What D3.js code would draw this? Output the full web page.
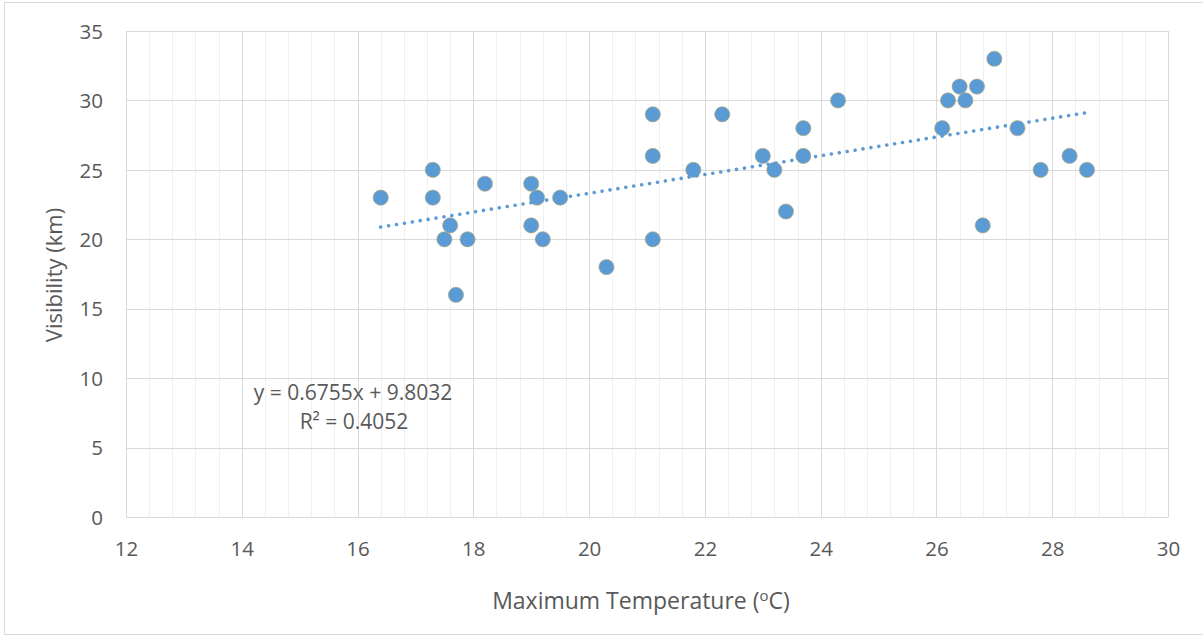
<!DOCTYPE html>
<html>
<head>
<meta charset="utf-8">
<script src="https://cdn.jsdelivr.net/npm/d3@7"></script>
<style>
  html, body { margin: 0; padding: 0; background: #fff; }
  svg { display: block; }
  text { font-family: "Open Sans", "Noto Sans", sans-serif; fill: #595959; }
</style>
</head>
<body>
<svg id="chart" width="1203" height="636"></svg>
<script>
// Maximum temperature (°C) against visibility (km)
const maxTemp = [16.4, 17.3, 17.3, 17.5, 17.6, 17.7, 17.9, 18.2, 19.0, 19.0, 19.1, 19.2,
                 19.5, 20.3, 21.1, 21.1, 21.1, 21.8, 22.3, 23.0, 23.2, 23.4, 23.7, 23.7,
                 24.3, 26.1, 26.2, 26.4, 26.5, 26.7, 26.8, 27.0, 27.4, 27.8, 28.3, 28.6];
const visibility = [23, 25, 23, 20, 21, 16, 20, 24, 24, 21, 23, 20,
                    23, 18, 29, 26, 20, 25, 29, 26, 25, 22, 28, 26,
                    30, 28, 30, 31, 30, 31, 21, 33, 28, 25, 26, 25];

// Linear trendline
const slope = 0.6755;
const intercept = 9.8032;
const rSquared = 0.4052;

const xTicks = [12, 14, 16, 18, 20, 22, 24, 26, 28, 30];
const yTicks = [0, 5, 10, 15, 20, 25, 30, 35];

const svg = d3.select("#chart");
const plotL = 126, plotR = 1168, plotT = 31, plotB = 517;

const x = d3.scaleLinear().domain([12, 30]).range([plotL, plotR]);
const y = d3.scaleLinear().domain([0, 35]).range([plotB, plotT]);

// Outer chart border
svg.append("rect")
  .attr("x", 4.5).attr("y", 2.5).attr("width", 1210).attr("height", 632)
  .attr("fill", "none").attr("stroke", "#d9d9d9").attr("stroke-width", 1);

// Minor vertical gridlines
const minorX = d3.range(12, 30.001, 0.4).map(v => +v.toFixed(1));
svg.append("g").selectAll("line").data(minorX).join("line")
  .attr("x1", d => Math.round(x(d)) + 0.5).attr("x2", d => Math.round(x(d)) + 0.5)
  .attr("y1", plotT).attr("y2", plotB)
  .attr("stroke", "#efefef").attr("stroke-width", 1);

// Major gridlines
svg.append("g").selectAll("line").data(xTicks).join("line")
  .attr("x1", d => Math.round(x(d)) + 0.5).attr("x2", d => Math.round(x(d)) + 0.5)
  .attr("y1", plotT).attr("y2", plotB)
  .attr("stroke", "#d9d9d9").attr("stroke-width", 1);
svg.append("g").selectAll("line").data(yTicks).join("line")
  .attr("x1", plotL).attr("x2", plotR)
  .attr("y1", d => Math.round(y(d)) + 0.5).attr("y2", d => Math.round(y(d)) + 0.5)
  .attr("stroke", "#d9d9d9").attr("stroke-width", 1);

// Axes (labels only)
const xAxis = d3.axisBottom(x).tickValues(xTicks).tickSize(0).tickPadding(0);
const gx = svg.append("g").attr("transform", `translate(0,${plotB})`).call(xAxis);
gx.select(".domain").attr("stroke", "#d9d9d9");
gx.selectAll("text").attr("dy", null).attr("y", 39)
  .style("font-size", "20.5px").attr("fill", "#595959");

const yAxis = d3.axisLeft(y).tickValues(yTicks).tickSize(0).tickPadding(0);
const gy = svg.append("g").attr("transform", `translate(${plotL},0)`).call(yAxis);
gy.select(".domain").attr("stroke", "#d9d9d9");
gy.selectAll("text").attr("x", -23).attr("dy", "0.35em")
  .style("font-size", "20.5px").attr("fill", "#595959");

// Data points
const pts = maxTemp.map((t, i) => ({ t, v: visibility[i] }));
svg.append("g").selectAll("circle").data(pts).join("circle")
  .attr("cx", d => x(d.t)).attr("cy", d => y(d.v)).attr("r", 7.6)
  .attr("fill", "#5b9bd5").attr("stroke", "#b3a77a").attr("stroke-width", 0.7);

// Dotted trendline across the data range
const tExt = d3.extent(maxTemp);
const line = d3.line().x(d => x(d)).y(d => y(slope * d + intercept));
svg.append("path").datum(tExt).attr("d", line)
  .attr("fill", "none").attr("stroke", "#5b9bd5").attr("stroke-width", 3.6)
  .attr("stroke-linecap", "round").attr("stroke-dasharray", "0.01 8");

// Trendline equation
const eq = svg.append("g").style("font-size", "21px");
eq.append("text").attr("x", 353).attr("y", 400).attr("text-anchor", "middle")
  .text(`y = ${slope}x + ${intercept}`);
eq.append("text").attr("x", 354).attr("y", 429).attr("text-anchor", "middle")
  .text(`R² = ${rSquared}`);

// Axis titles
svg.append("text").attr("x", 641).attr("y", 609).attr("text-anchor", "middle")
  .style("font-size", "23px")
  .html('Maximum Temperature (<tspan dy="-8" font-size="15">o</tspan><tspan dy="8">C)</tspan>');
svg.append("text").attr("transform", "translate(62,275) rotate(-90)")
  .attr("text-anchor", "middle").style("font-size", "22px")
  .text("Visibility (km)");
</script>
</body>
</html>
